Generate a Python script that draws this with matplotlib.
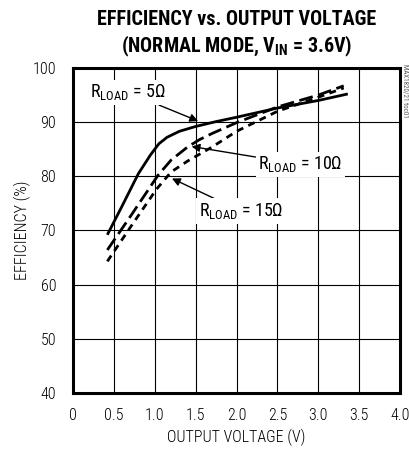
import matplotlib
matplotlib.use("Agg")
import matplotlib.pyplot as plt
from matplotlib import font_manager

# curve data
v_5ohm = [0.42, 0.6, 0.8, 0.95, 1.05, 1.15, 1.3, 1.5, 1.75, 2.0, 2.5, 3.0, 3.36]
eff_5ohm = [69.2, 74.5, 80.5, 84.0, 86.0, 87.2, 88.3, 89.2, 90.1, 90.9, 92.6, 94.0, 95.2]
v_10ohm = [0.42, 0.72, 1.04, 1.2, 1.4, 1.55, 1.7, 2.0, 2.5, 3.0, 3.31]
eff_10ohm = [66.4, 73.0, 80.2, 83.0, 85.4, 86.8, 87.9, 89.9, 92.8, 95.0, 96.7]
v_15ohm = [0.42, 0.72, 1.02, 1.2, 1.4, 1.7, 2.0, 2.5, 3.0, 3.31]
eff_15ohm = [64.3, 71.0, 77.6, 80.8, 82.8, 85.4, 88.3, 92.0, 94.6, 96.3]

x_ticks = [0, 0.5, 1.0, 1.5, 2.0, 2.5, 3.0, 3.5, 4.0]
x_labels = ["0", "0.5", "1.0", "1.5", "2.0", "2.5", "3.0", "3.5", "4.0"]
y_ticks = [40, 50, 60, 70, 80, 90, 100]

# pick a narrow sans if one is around
installed = set(f.name for f in font_manager.fontManager.ttflist)
narrow = "DejaVu Sans"
for cand in ["Roboto Condensed", "Arial Narrow", "Liberation Sans Narrow",
             "PT Sans Narrow", "Archivo Narrow", "Fira Sans Condensed"]:
    if cand in installed:
        narrow = cand
        break

plt.rcParams["font.family"] = [narrow, "DejaVu Sans"]
plt.rcParams["mathtext.fontset"] = "custom"
plt.rcParams["mathtext.rm"] = narrow
plt.rcParams["mathtext.bf"] = narrow + ":bold"

fig = plt.figure(figsize=(4.10, 4.53), dpi=100)
ax = fig.add_axes([0.178, 0.1325, 0.798, 0.7175])

ax.plot(v_5ohm, eff_5ohm, color="black", lw=2.0, solid_capstyle="butt", zorder=3)
ax.plot(v_10ohm, eff_10ohm, color="black", lw=2.0, dashes=(5, 2), zorder=3)
ax.plot(v_15ohm, eff_15ohm, color="black", lw=2.0, dashes=(2.5, 2), zorder=3)

ax.set_xlim(0, 4.0)
ax.set_ylim(40, 100)
ax.set_xticks(x_ticks)
ax.set_xticklabels(x_labels)
ax.set_yticks(y_ticks)
ax.grid(True, color="black", lw=0.8)
ax.tick_params(length=0, labelsize=11.5)
ax.tick_params(axis="x", pad=11)
ax.tick_params(axis="y", pad=12)
for lab in ax.get_xticklabels() + ax.get_yticklabels():
    lab.set_fontweight("light")
for s in ax.spines.values():
    s.set_linewidth(2.2)

ax.set_xlabel("OUTPUT VOLTAGE (V)", fontsize=11.5, labelpad=4, fontweight="light")
ax.set_ylabel("EFFICIENCY (%)", fontsize=11.5, labelpad=1, fontweight="light")

fig.text(0.578, 0.957, "EFFICIENCY vs. OUTPUT VOLTAGE", ha="center", va="center",
         fontsize=14.5, fontweight="bold")
fig.text(0.578, 0.898, r"(NORMAL MODE, V$_{\mathbf{IN}}$ = 3.6V)", ha="center",
         va="center", fontsize=14.5, fontweight="bold")

box = dict(boxstyle="square,pad=0.15", fc="white", ec="none")
arrow = dict(arrowstyle="-|>", color="black", lw=1.0, mutation_scale=12,
             shrinkA=0, shrinkB=0)
ax.annotate(r"R$_{\mathregular{LOAD}}$ = 5Ω", xy=(1.53, 90.2), xytext=(0.67, 95.5),
            ha="center", va="center", fontsize=13, bbox=box, arrowprops=arrow,
            zorder=4)
ax.annotate(r"R$_{\mathregular{LOAD}}$ = 10Ω", xy=(1.45, 85.5), xytext=(2.78, 82.2),
            ha="center", va="center", fontsize=13, bbox=box, arrowprops=arrow,
            zorder=4)
ax.annotate(r"R$_{\mathregular{LOAD}}$ = 15Ω", xy=(1.21, 79.6), xytext=(2.05, 73.6),
            ha="center", va="center", fontsize=13, bbox=box, arrowprops=arrow,
            zorder=4)

fig.text(0.988, 0.80, "MAX1820/21 toc01", rotation=270, ha="center", va="center",
         fontsize=5, color="0.35")

fig.savefig("out.png", dpi=100)
